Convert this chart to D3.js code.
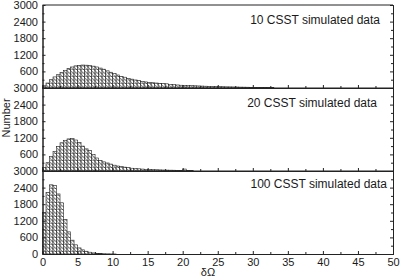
<!DOCTYPE html>
<html>
<head>
<meta charset="utf-8">
<script src="https://cdn.jsdelivr.net/npm/d3@7"></script>
<style>
  body { margin: 0; background: #fff; }
  text { font-family: "Liberation Sans", Arial, sans-serif; fill: #1a1a1a; }
</style>
</head>
<body>
<div id="chart"></div>
<script>
// bin width 0.5, bins start at 0
var binWidth = 0.5;
var counts10 = [80, 180, 300, 400, 480, 560, 640, 710, 760, 800, 820, 830, 825, 810, 790, 760,
  720, 680, 620, 570, 520, 470, 420, 390, 350, 320, 290, 270, 240, 220, 200, 190,
  180, 170, 160, 150, 130, 120, 110, 100, 95, 90, 85, 80, 75, 70, 65, 60,
  55, 50, 48, 45, 42, 40, 38, 35, 32, 30, 28, 25, 22, 20, 18, 16, 14, 12];
var counts20 = [120, 300, 520, 700, 880, 1020, 1110, 1160, 1170, 1120, 1030, 900, 800, 740, 600, 470,
  380, 330, 290, 250, 210, 180, 160, 140, 120, 100, 90, 80, 70, 60, 55, 50,
  45, 40, 36, 32, 30, 28, 25, 22, 70, 18, 14];
var counts100 = [1500, 2230, 2500, 2470, 2170, 1850, 1250, 800, 500, 330, 220, 150, 100, 65, 40, 25,
  15, 10, 6, 4, 2];
var panelLabels = ["10 CSST simulated data", "20 CSST simulated data", "100 CSST simulated data"];
var xTicks = [0, 5, 10, 15, 20, 25, 30, 35, 40, 45, 50];
var yTicks = [0, 600, 1200, 1800, 2400, 3000];

var W = 400, H = 280;
var plotLeft = 42.5, plotRight = 393, plotTop = 5, panelH = 83;
var labelX = [380, 377, 387];
var labelDy = [18.5, 18.5, 16.5];

var svg = d3.select("#chart").append("svg")
  .attr("width", W)
  .attr("height", H);

// hatch pattern
var pat = svg.append("defs").append("pattern")
  .attr("id", "hatch")
  .attr("patternUnits", "userSpaceOnUse")
  .attr("width", 3.5)
  .attr("height", 3.5);
pat.append("rect").attr("width", 3.5).attr("height", 3.5).attr("fill", "#fff");
pat.append("path")
  .attr("d", "M-1,-1 L4.5,4.5 M0,3.5 L3.5,3.5")
  .attr("stroke", "#222")
  .attr("stroke-width", 0.7);

var x = d3.scaleLinear().domain([0, 50]).range([plotLeft, plotRight]);

var series = [counts10, counts20, counts100];

series.forEach(function(counts, i) {
  var y0 = plotTop + i * panelH;
  var y = d3.scaleLinear().domain([0, 3000]).range([y0 + panelH, y0]);
  var g = svg.append("g");

  // bars
  g.selectAll("rect.bar")
    .data(counts)
    .enter()
    .append("rect")
    .attr("class", "bar")
    .attr("x", function(d, j) { return x(j * binWidth); })
    .attr("width", x(binWidth) - x(0))
    .attr("y", function(d) { return y(d); })
    .attr("height", function(d) { return y(0) - y(d); })
    .attr("fill", "url(#hatch)")
    .attr("stroke", "#222")
    .attr("stroke-width", 0.6);

  // left axis, inward ticks
  var isLast = i === series.length - 1;
  g.append("g")
    .attr("transform", "translate(" + plotLeft + ",0)")
    .call(d3.axisLeft(y).tickValues(yTicks).tickSizeInner(-3).tickSizeOuter(0)
      .tickPadding(4.5)
      .tickFormat(function(d) { return (d === 0 && !isLast) ? "" : d; }))
    .call(styleAxis);
  g.append("g")
    .attr("transform", "translate(" + plotLeft + ",0)")
    .call(d3.axisLeft(y).tickValues(d3.range(300, 3000, 600)).tickSize(-2).tickFormat(""))
    .call(styleAxis);

  // right axis
  g.append("g")
    .attr("transform", "translate(" + plotRight + ",0)")
    .call(d3.axisRight(y).tickValues(yTicks).tickSize(-3).tickFormat(""))
    .call(styleAxis);
  g.append("g")
    .attr("transform", "translate(" + plotRight + ",0)")
    .call(d3.axisRight(y).tickValues(d3.range(300, 3000, 600)).tickSize(-2).tickFormat(""))
    .call(styleAxis);

  // bottom axis
  g.append("g")
    .attr("transform", "translate(0," + (y0 + panelH) + ")")
    .call(d3.axisBottom(x).tickValues(xTicks).tickSizeInner(-3).tickSizeOuter(0)
      .tickPadding(4)
      .tickFormat(isLast ? d3.format("d") : ""))
    .call(styleAxis);
  g.append("g")
    .attr("transform", "translate(0," + (y0 + panelH) + ")")
    .call(d3.axisBottom(x).tickValues(d3.range(2.5, 50, 5)).tickSize(-2).tickFormat(""))
    .call(styleAxis);

  // top line
  g.append("line")
    .attr("x1", plotLeft).attr("x2", plotRight)
    .attr("y1", y0).attr("y2", y0)
    .attr("stroke", "#222");

  g.append("text")
    .attr("x", labelX[i])
    .attr("y", y0 + labelDy[i])
    .attr("text-anchor", "end")
    .style("font-size", "12px")
    .text(panelLabels[i]);
});

function styleAxis(sel) {
  sel.selectAll("path").attr("stroke", "#222");
  sel.selectAll("line").attr("stroke", "#222");
  sel.selectAll("text").style("font-size", "11px").attr("fill", "#1a1a1a")
    .style("font-family", "'Liberation Sans', Arial, sans-serif");
}

// axis titles
svg.append("text")
  .attr("transform", "translate(10,118) rotate(-90)")
  .attr("text-anchor", "middle")
  .style("font-size", "11px")
  .text("Number");

svg.append("text")
  .attr("x", 208)
  .attr("y", 276)
  .attr("text-anchor", "middle")
  .style("font-size", "11px")
  .text("δΩ");
</script>
</body>
</html>
